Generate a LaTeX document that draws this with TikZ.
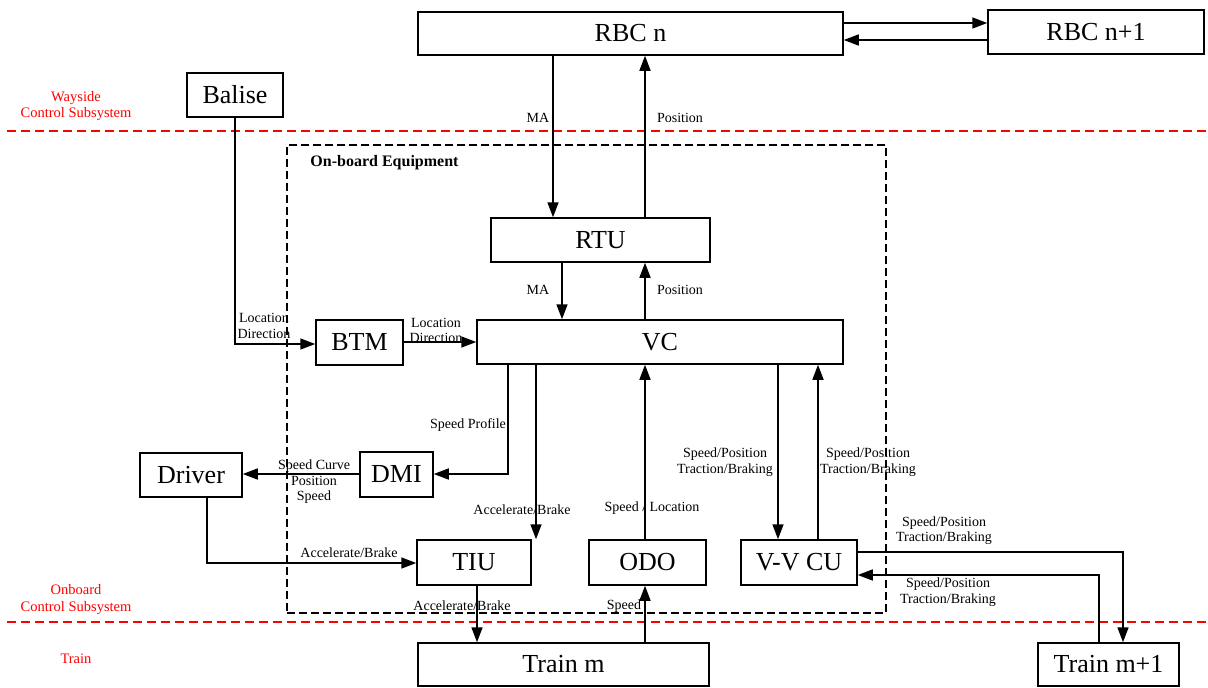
\documentclass[tikz,border=0pt]{standalone}
\usepackage{fontspec}
\setmainfont{Liberation Serif}
\usetikzlibrary{arrows.meta,calc}
\begin{document}
\begin{tikzpicture}[x=1pt,y=-1pt,
  box/.style={draw, line width=1.5pt, inner sep=0pt, font=\fontsize{26}{28}\selectfont},
  lbl/.style={font=\fontsize{14}{15.5}\selectfont, align=center, inner sep=0pt},
  redlbl/.style={font=\fontsize{14.5}{16.5}\selectfont, align=center, inner sep=0pt, text=red},
  arr/.style={-{Triangle[length=15pt,width=11pt]}, line width=1.6pt},
  reddash/.style={draw=red, line width=1.7pt, dash pattern=on 9pt off 5pt},
  blkdash/.style={draw, line width=1.3pt, dash pattern=on 8pt off 4pt}]
\useasboundingbox[fill=white] (0,0) rectangle (1208,688);

% region separators
\draw[reddash] (7,131) -- (1208,131);
\draw[reddash] (7,622) -- (1208,622);
\node[redlbl] (lwayside) at (76,106) {Wayside\\Control Subsystem};
\node[redlbl] (lonboard) at (76,599.5) {Onboard\\Control Subsystem};
\node[redlbl] (ltrain) at (76,659) {Train};

% on-board equipment frame
\node[blkdash, minimum width=599pt, minimum height=468pt, inner sep=0pt] (obe) at (586.5,379) {};
\node[font=\fontsize{16}{18}\selectfont\bfseries, inner sep=0pt] (obelbl) at (384.5,162.5) {On-board Equipment};

% boxes
\node[box, minimum width=425pt, minimum height=43pt] (rbcn) at (630.5,33.5) {RBC n};
\node[box, minimum width=216pt, minimum height=44pt] (rbcnn) at (1096,32) {RBC n+1};
\node[box, minimum width=96pt, minimum height=44pt] (balise) at (235,95) {Balise};
\node[box, minimum width=219pt, minimum height=44pt] (rtu) at (600.5,240) {RTU};
\node[box, minimum width=366pt, minimum height=44pt] (vc) at (660,342) {VC};
\node[box, minimum width=87pt, minimum height=45pt] (btm) at (359.5,342.5) {BTM};
\node[box, minimum width=73pt, minimum height=45pt] (dmi) at (396.5,474.5) {DMI};
\node[box, minimum width=102pt, minimum height=44pt] (driver) at (191,475) {Driver};
\node[box, minimum width=114pt, minimum height=45pt] (tiu) at (474,562.5) {TIU};
\node[box, minimum width=117pt, minimum height=45pt] (odo) at (647.5,562.5) {ODO};
\node[box, minimum width=116pt, minimum height=45pt] (vvcu) at (799,562.5) {V-V CU};
\node[box, minimum width=291pt, minimum height=43pt] (trainm) at (563.5,664.5) {Train m};
\node[box, minimum width=141pt, minimum height=43pt] (trainmm) at (1108.5,664.5) {Train m+1};

% helper coordinates
\coordinate (xMA) at (553,0);
\coordinate (xPos) at (645,0);
\coordinate (xMAb) at (562,0);
\coordinate (xSP) at (508,0);
\coordinate (xT) at (536,0);
\coordinate (xD) at (207,0);
\coordinate (xTM) at (477,0);
\coordinate (xV1) at (778,0);
\coordinate (xV2) at (818,0);
\coordinate (xO) at (1123,0);
\coordinate (xR) at (1099,0);
\coordinate (yO) at (0,552);
\coordinate (yR) at (0,575);
\coordinate (yA) at (0,23);
\coordinate (yB) at (0,40);
\coordinate (yL) at (0,344);
\coordinate (yK) at (0,342);
\coordinate (yS) at (0,474);
\coordinate (yT) at (0,563);

% connectors
\draw[arr] (rbcn.east |- yA) -- (rbcnn.west |- yA);
\draw[arr] (rbcnn.west |- yB) -- (rbcn.east |- yB);
\draw[arr] (rbcn.south -| xMA) -- (rtu.north -| xMA);
\draw[arr] (rtu.north -| xPos) -- (rbcn.south -| xPos);
\draw[arr] (rtu.south -| xMAb) -- (vc.north -| xMAb);
\draw[arr] (vc.north -| xPos) -- (rtu.south -| xPos);
\draw[arr] (balise.south) |- (btm.west |- yL);
\draw[arr] (btm.east |- yK) -- (vc.west |- yK);
\draw[arr] (vc.south -| xSP) |- (dmi.east |- yS);
\draw[arr] (dmi.west |- yS) -- (driver.east |- yS);
\draw[arr] (vc.south -| xT) -- (tiu.north -| xT);
\draw[arr] (driver.south -| xD) |- (tiu.west |- yT);
\draw[arr] (odo.north -| xPos) -- (vc.south -| xPos);
\draw[arr] (trainm.north -| xPos) -- (odo.south -| xPos);
\draw[arr] (tiu.south -| xTM) -- (trainm.north -| xTM);
\draw[arr] (vc.south -| xV1) -- (vvcu.north -| xV1);
\draw[arr] (vvcu.north -| xV2) -- (vc.south -| xV2);
\draw[arr] (vvcu.east |- yO) -| (trainmm.north -| xO);
\draw[arr] (trainmm.north -| xR) |- (vvcu.east |- yR);

% labels
\node[lbl] (l1) at (538,118) {MA};
\node[lbl] (l2) at (680,118) {Position};
\node[lbl] (l3) at (538,290) {MA};
\node[lbl] (l4) at (680,290) {Position};
\node[lbl] (l5) at (264,326) {Location\\Direction};
\node[lbl] (l6) at (436,330.5) {Location\\Direction};
\node[lbl] (l7) at (468,425) {Speed Profile};
\node[lbl] (l8) at (314,482) {Speed Curve\\Position\\Speed};
\node[lbl] (l9) at (349,553) {Accelerate/Brake};
\node[lbl] (l10) at (522,510) {Accelerate/Brake};
\node[lbl] (l11) at (652,508) {Speed / Location};
\node[lbl] (l12) at (725,462) {Speed/Position\\Traction/Braking};
\node[lbl] (l13) at (868,462) {Speed/Position\\Traction/Braking};
\node[lbl] (l14) at (944,530.5) {Speed/Position\\Traction/Braking};
\node[lbl] (l15) at (948,592) {Speed/Position\\Traction/Braking};
\node[lbl] (l16) at (462,606) {Accelerate/Brake};
\node[lbl] (l17) at (624,606) {Speed};
\end{tikzpicture}
\end{document}
